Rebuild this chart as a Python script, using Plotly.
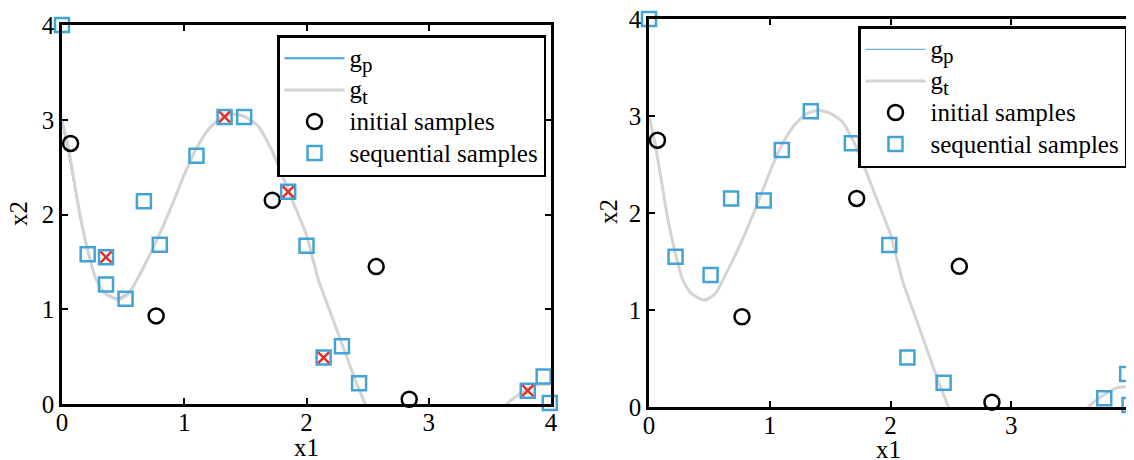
import plotly.graph_objects as go

# ---- data ----
# true limit-state curve g_t, values below 0 are clipped by the axes
gt_x = [0.0, 0.05, 0.10, 0.15, 0.20, 0.28, 0.35, 0.46, 0.55, 0.64, 0.72, 0.80, 0.90, 1.00, 1.10,
        1.20, 1.30, 1.40, 1.50, 1.60, 1.70, 1.80, 1.90, 2.00, 2.10, 2.20, 2.30, 2.40, 2.48,
        2.60, 3.00, 3.40, 3.64, 3.75, 3.88, 4.00]
gt_y = [3.00, 2.72, 2.35, 1.98, 1.68, 1.31, 1.17, 1.10, 1.17, 1.38, 1.58, 1.80, 2.10, 2.42, 2.70,
        2.90, 3.02, 3.06, 3.03, 2.94, 2.72, 2.42, 2.10, 1.78, 1.30, 0.95, 0.60, 0.25, 0.00,
        -0.45, -1.00, -0.50, 0.00, 0.11, 0.20, 0.21]
# predicted curve g_p (nearly coincident with g_t)
gp_x = gt_x
gp_y_left = [2.98, 2.68, 2.33, 1.97, 1.67, 1.31, 1.17, 1.11, 1.18, 1.37, 1.58, 1.80, 2.10, 2.42, 2.70,
             2.90, 3.02, 3.06, 3.03, 2.94, 2.72, 2.42, 2.10, 1.78, 1.30, 0.95, 0.60, 0.25, 0.00,
             -0.45, -1.00, -0.50, 0.00, 0.11, 0.20, 0.21]
gp_y_right = gp_y_left

init_x = [0.07, 0.77, 1.72, 2.57, 2.84]
init_y = [2.75, 0.93, 2.15, 1.45, 0.05]

seqL_x = [0.00, 0.67, 1.10, 1.33, 1.49, 1.85, 0.21, 0.36, 0.36, 0.52, 0.80, 2.00, 2.29, 2.14, 2.43, 3.81, 3.94, 3.99]
seqL_y = [4.00, 2.14, 2.62, 3.03, 3.03, 2.24, 1.58, 1.55, 1.26, 1.11, 1.68, 1.67, 0.61, 0.49, 0.22, 0.14, 0.29, 0.01]

crossL_x = [0.36, 1.33, 1.85, 2.14, 3.81]
crossL_y = [1.55, 3.03, 2.24, 0.49, 0.14]

seqR_x = [0.00, 0.68, 0.95, 1.10, 1.34, 1.68, 0.22, 0.51, 1.99, 2.14, 2.44, 3.77, 3.96, 3.98]
seqR_y = [4.00, 2.15, 2.13, 2.65, 3.05, 2.72, 1.55, 1.36, 1.67, 0.51, 0.25, 0.09, 0.34, 0.02]

ticks = [0, 1, 2, 3, 4]
tick_text = ["0", "1", "2", "3", "4"]

# ---- style / geometry ----
FONT = "Liberation Serif"
BLUE = "#43A3D6"
GRAY = "#D4D4D4"
RED = "#E0322B"
OFF = 8            # page body margin
W, H = 1126, 452   # figure size so that figure + body margin = window


def px(v):
    return (v - OFF) / W


def py(v):
    return 1 - (v - OFF) / H


def big(t):
    return "<span style='font-size:25px'>" + t + "</span>"


NAME_P = big("g<sub><span style='font-size:21px'>p</span></sub>")
NAME_T = big("g<sub><span style='font-size:21px'>t</span></sub>")
NAME_I = big("initial samples")
NAME_S = big("sequential samples")

fig = go.Figure()


def add_panel(xa, ya, leg, gp_y, seq_x, seq_y, gp_w, cross=None):
    fig.add_trace(go.Scatter(x=gp_x, y=gp_y, mode="lines", name=NAME_P,
                             line=dict(color=BLUE, width=gp_w, shape="spline", smoothing=0.6),
                             xaxis=xa, yaxis=ya, legend=leg))
    fig.add_trace(go.Scatter(x=gt_x, y=gt_y, mode="lines", name=NAME_T,
                             line=dict(color=GRAY, width=3, shape="spline", smoothing=0.6),
                             xaxis=xa, yaxis=ya, legend=leg))
    fig.add_trace(go.Scatter(x=init_x, y=init_y, mode="markers", name=NAME_I,
                             marker=dict(symbol="circle-open", size=15, color="black",
                                         line=dict(width=2.5, color="black")),
                             cliponaxis=False, xaxis=xa, yaxis=ya, legend=leg))
    fig.add_trace(go.Scatter(x=seq_x, y=seq_y, mode="markers", name=NAME_S,
                             marker=dict(symbol="square-open", size=14, color=BLUE,
                                         line=dict(width=2.5, color=BLUE)),
                             cliponaxis=False, xaxis=xa, yaxis=ya, legend=leg))
    if cross is not None:
        fig.add_trace(go.Scatter(x=cross[0], y=cross[1], mode="markers", showlegend=False,
                                 marker=dict(symbol="x-thin-open", size=11, color=RED,
                                             line=dict(width=2.5, color=RED)),
                                 cliponaxis=False, xaxis=xa, yaxis=ya))


add_panel("x", "y", "legend", gp_y_left, seqL_x, seqL_y, 2, (crossL_x, crossL_y))
add_panel("x2", "y2", "legend2", gp_y_right, seqR_x, seqR_y, 1)

axis_common = dict(range=[0, 4], tickvals=ticks, ticktext=tick_text, ticks="inside", ticklen=6,
                   tickwidth=2, tickcolor="black", showline=True, linewidth=2.5, linecolor="black",
                   mirror="allticks", showgrid=False, zeroline=False, automargin=False,
                   ticklabeloverflow="allow",
                   tickfont=dict(family=FONT, size=25, color="black"))

legend_common = dict(bordercolor="black", borderwidth=2.5, bgcolor="white",
                     font=dict(family=FONT, size=22, color="black"),
                     xanchor="right", yanchor="top", tracegroupgap=0, itemwidth=60)

title_font = dict(family=FONT, size=25, color="black")

fig.update_layout(
    width=W, height=H, margin=dict(l=0, r=0, t=0, b=0),
    paper_bgcolor="white", plot_bgcolor="white",
    xaxis=dict(domain=[px(62), px(551)], anchor="y", ticklabelstandoff=-6, **axis_common),
    yaxis=dict(domain=[py(404), py(25)], anchor="x", ticklabelstandoff=0, **axis_common),
    xaxis2=dict(domain=[px(649), px(1132)], anchor="y2", ticklabelstandoff=-6, **axis_common),
    yaxis2=dict(domain=[py(407), py(19)], anchor="x2", ticklabelstandoff=0, **axis_common),
    legend=dict(x=px(546), y=py(35), **legend_common),
    legend2=dict(x=px(1127), y=py(26), **legend_common),
    annotations=[
        dict(text="x1", x=px(306), y=py(447), xref="paper", yref="paper", showarrow=False,
             xanchor="center", yanchor="middle", font=title_font),
        dict(text="x1", x=px(888), y=py(449), xref="paper", yref="paper", showarrow=False,
             xanchor="center", yanchor="middle", font=title_font),
        dict(text="x2", x=px(19), y=py(214), xref="paper", yref="paper", showarrow=False,
             xanchor="center", yanchor="middle", textangle=-90, font=title_font),
        dict(text="x2", x=px(608), y=py(212), xref="paper", yref="paper", showarrow=False,
             xanchor="center", yanchor="middle", textangle=-90, font=title_font),
    ],
    showlegend=True,
)

fig.write_html("out.html")
